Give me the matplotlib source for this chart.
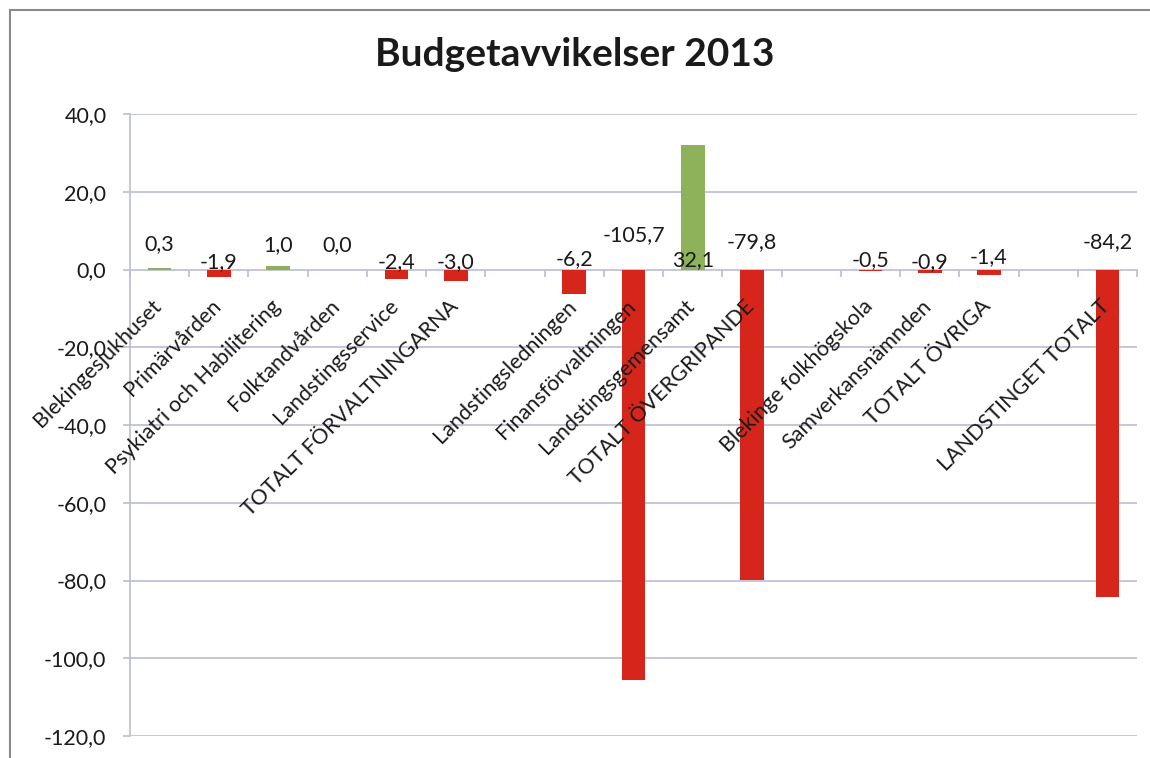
import matplotlib
matplotlib.use("Agg")
import matplotlib.pyplot as plt
import matplotlib.transforms as mtransforms
from matplotlib.lines import Line2D
import numpy as np

# ---- data ----
categories = ["Blekingesjukhuset", "Primärvården", "Psykiatri och Habilitering",
              "Folktandvården", "Landstingsservice", "TOTALT FÖRVALTNINGARNA", "",
              "Landstingsledningen", "Finansförvaltningen", "Landstingsgemensamt",
              "TOTALT ÖVERGRIPANDE", "", "Blekinge folkhögskola", "Samverkansnämnden",
              "TOTALT ÖVRIGA", "", "LANDSTINGET TOTALT"]
values = [0.3, -1.9, 1.0, 0.0, -2.4, -3.0, None, -6.2, -105.7, 32.1, -79.8, None,
          -0.5, -0.9, -1.4, None, -84.2]
y_ticks = [40, 20, 0, -20, -40, -60, -80, -100, -120]
title = "Budgetavvikelser 2013"

# ---- style ----
label_y = [6.5, 1.8, 6.2, 6.2, 1.8, 1.8, None, 2.8, 8.8, 2.3, 7.0, None,
           2.3, 1.8, 3.1, None, 7.0]
RED = "#d6261c"
GREEN = "#8db25a"
GRID = "#bcbcd6"
TXT = "#1a1a1a"
FONT = "Lato"
FS = 15.5

plt.rcParams["font.family"] = [FONT, "DejaVu Sans"]

fig = plt.figure(figsize=(11.5, 7.58), dpi=100)
ax = fig.add_axes([130 / 1150, 1 - 736 / 758, (1137 - 130) / 1150, (736 - 114) / 758])
ax.set_axisbelow(False)  # axis (tick labels) above bars

x = np.arange(len(categories))

# gridlines drawn manually beneath bars
for t in y_ticks:
    if t != 0:
        ax.axhline(t, color=GRID, linewidth=1.2, zorder=0.5)

for xi, v in zip(x, values):
    if v is None:
        continue
    ax.bar(xi, v, width=0.4, color=GREEN if v > 0 else RED, zorder=2)

for xi, v, ly in zip(x, values, label_y):
    if v is None:
        continue
    ax.text(xi, ly, f"{v:.1f}".replace(".", ","), ha="center", va="center",
            fontsize=FS, color=TXT, zorder=4)

ax.set_xlim(-0.5, len(categories) - 0.5)
ax.set_ylim(-120, 40)
ax.set_yticks(y_ticks)
ax.set_yticklabels([f"{t:.1f}".replace(".", ",") for t in y_ticks], fontsize=FS, color=TXT)
ax.tick_params(axis="y", length=5, color=GRID, width=1.2, pad=12)

ax.spines["top"].set_visible(False)
ax.spines["right"].set_visible(False)
ax.spines["left"].set_color(GRID)
ax.spines["left"].set_linewidth(1.2)
ax.spines["left"].set_zorder(0.6)
ax.spines["bottom"].set_position(("data", 0))
ax.spines["bottom"].set_color(GRID)
ax.spines["bottom"].set_linewidth(1.2)
ax.spines["bottom"].set_zorder(0.6)

ax.set_xticks(x)
ax.set_xticks(np.arange(len(categories) + 1) - 0.5, minor=True)
ax.tick_params(axis="x", which="major", length=0, pad=19)
ax.tick_params(axis="x", which="minor", length=5, color=GRID, width=1.2, direction="out")
ax.set_xticklabels(categories, rotation=45, ha="right", va="top", fontsize=FS, color=TXT)
offset = mtransforms.ScaledTranslation(6 / 100, 0, fig.dpi_scale_trans)
for lab in ax.get_xticklabels():
    lab.set_transform(lab.get_transform() + offset)

fig.text(0.5, 1 - 55 / 758, title, ha="center", va="center", fontsize=28,
         fontweight="bold", color=TXT)

# chart border
fig.add_artist(Line2D([10 / 1150, 10 / 1150], [0, 1 - 10 / 758], transform=fig.transFigure,
                      color="#8a8a8a", linewidth=1.5))
fig.add_artist(Line2D([10 / 1150, 1], [1 - 10 / 758, 1 - 10 / 758], transform=fig.transFigure,
                      color="#8a8a8a", linewidth=1.5))

fig.savefig("out.png", dpi=100)
